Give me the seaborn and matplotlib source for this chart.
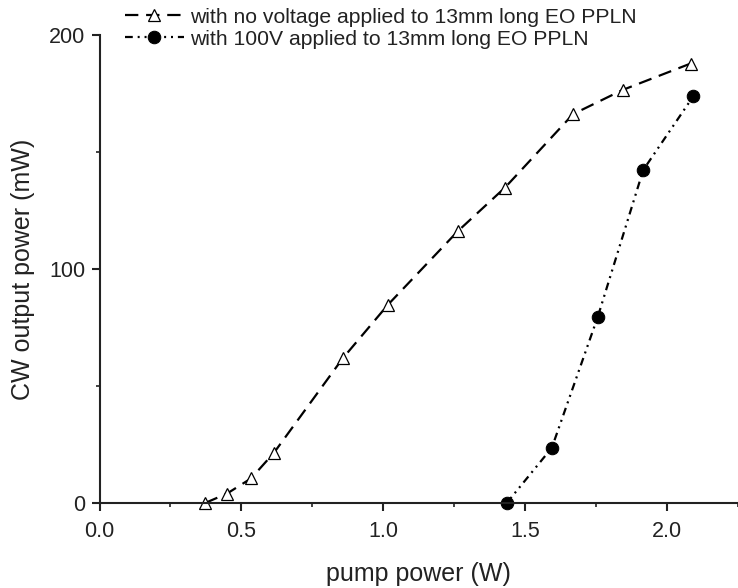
import matplotlib
matplotlib.use("Agg")
import matplotlib.pyplot as plt
import seaborn as sns
import pandas as pd
from matplotlib.ticker import MultipleLocator

# Data
x_novolt = [0.372, 0.449, 0.534, 0.615, 0.857, 1.017, 1.263, 1.429, 1.669, 1.843, 2.083]
y_novolt = [0.0, 4.0, 10.5, 21.5, 61.8, 84.8, 116.2, 134.8, 166.2, 176.5, 187.8]
x_100v = [1.435, 1.594, 1.756, 1.916, 2.093]
y_100v = [0.0, 23.6, 79.6, 142.3, 173.9]

label_novolt = "with no voltage applied to 13mm long EO PPLN"
label_100v = "with 100V applied to 13mm long EO PPLN"
x_label = "pump power (W)"
y_label = "CW output power (mW)"
x_ticks = [0.0, 0.5, 1.0, 1.5, 2.0]
y_ticks = [0, 100, 200]

sns.set_theme(style="ticks")
plt.rcParams["font.family"] = ["Liberation Sans", "DejaVu Sans"]

fig = plt.figure(figsize=(7.38, 5.88), dpi=100)
ax = fig.add_axes([99.5 / 738, 1 - 503 / 588, 1 - 99.5 / 738, (503 - 35) / 588])

df1 = pd.DataFrame({"x": x_novolt, "y": y_novolt})
df2 = pd.DataFrame({"x": x_100v, "y": y_100v})

sns.lineplot(data=df1, x="x", y="y", ax=ax, sort=False, color="black",
             linewidth=1.6, linestyle=(0, (6, 3.5)), marker="^", markersize=8,
             markerfacecolor="white", markeredgecolor="black", markeredgewidth=0.9,
             label=label_novolt, clip_on=False)
sns.lineplot(data=df2, x="x", y="y", ax=ax, sort=False, color="black",
             linewidth=1.6, linestyle=(0, (3.5, 2.2, 0.9, 2.2, 0.9, 2.2)), marker="o",
             markersize=9, markerfacecolor="black", markeredgecolor="black",
             label=label_100v, clip_on=False)

ax.set_xlim(0, 2.25)
ax.set_ylim(0, 200)
ax.set_xticks(x_ticks)
ax.set_xticklabels([f"{v:.1f}" for v in x_ticks])
ax.set_yticks(y_ticks)
ax.set_yticklabels([str(v) for v in y_ticks])
ax.xaxis.set_minor_locator(MultipleLocator(0.25))
ax.yaxis.set_minor_locator(MultipleLocator(50))

for s in ["top", "right"]:
    ax.spines[s].set_visible(False)
for s in ["left", "bottom"]:
    ax.spines[s].set_linewidth(1.5)
    ax.spines[s].set_color("#222222")

ax.tick_params(which="major", direction="out", length=6, width=1.5, labelsize=15.5,
               colors="#222222", pad=4)
ax.tick_params(which="minor", direction="out", length=3, width=1.2, colors="#222222")
ax.tick_params(axis="x", which="major", pad=7)

ax.set_xlabel(x_label, fontsize=18, labelpad=14, color="#222222")
ax.set_ylabel(y_label, fontsize=18, labelpad=10, color="#222222")

ax.get_legend().remove()
handles, labels = ax.get_legend_handles_labels()
leg = fig.legend(handles, labels, loc="upper left", bbox_to_anchor=(110 / 738, 1.012),
                 frameon=False, fontsize=15.2, handlelength=2.8, handletextpad=0.3,
                 labelspacing=0.15, borderpad=0.2)
for t in leg.get_texts():
    t.set_color("#222222")

fig.savefig("out.png", dpi=100)
